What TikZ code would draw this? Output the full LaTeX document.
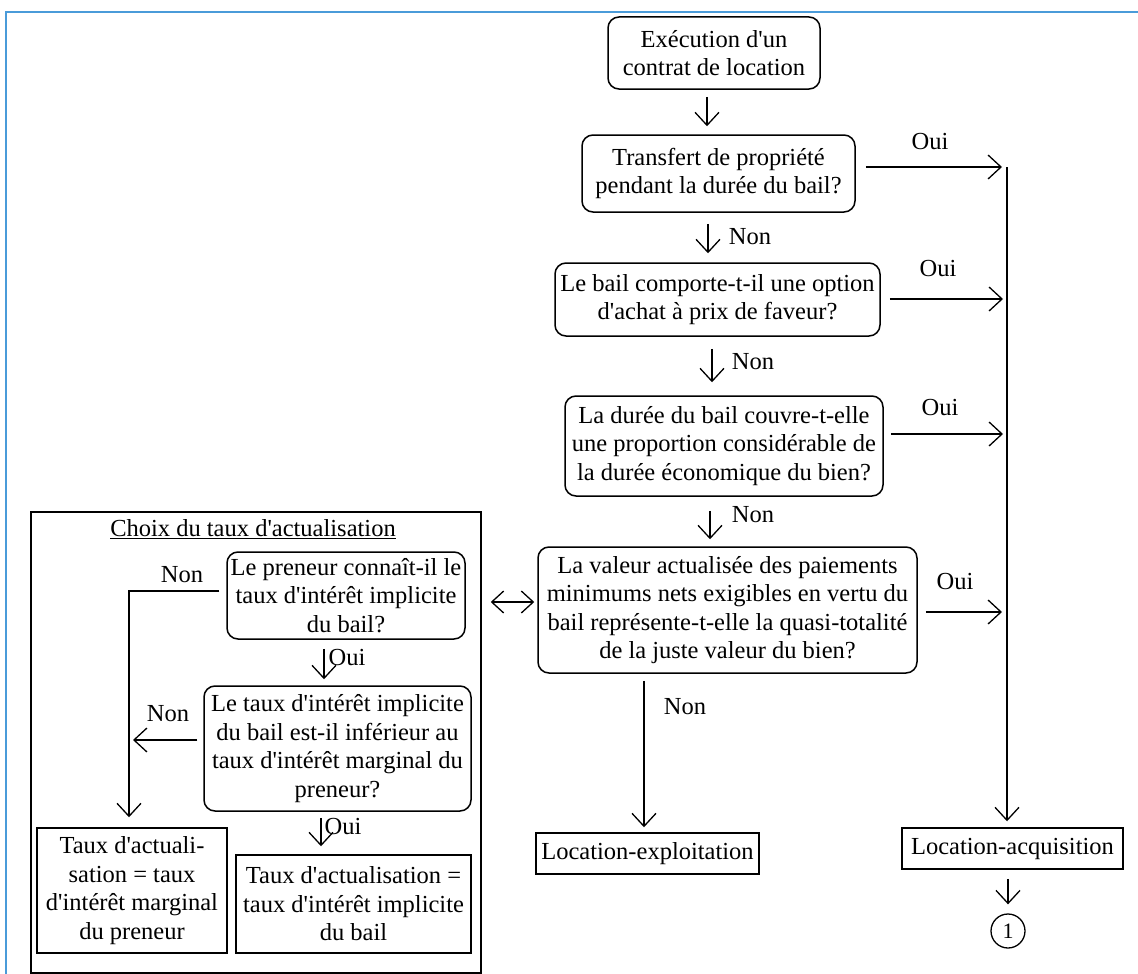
\documentclass[tikz,border=0pt]{standalone}
\usepackage{fontspec}
\setmainfont{Liberation Serif}
\usetikzlibrary{arrows.meta,calc}
\definecolor{frameblue}{RGB}{74,155,217}
\newcommand{\apo}{\textquotesingle}
\begin{document}
\begin{tikzpicture}[x=1pt,y=-1pt,
  every node/.style={font=\fontsize{24.5}{28.5}\selectfont},
  qbox/.style={draw, rounded corners=11pt, line width=1.5pt, align=center, inner sep=2pt},
  rbox/.style={draw, line width=1.5pt, align=center, inner sep=2pt},
  arr/.style={line width=1.3pt, -{Straight Barb[length=13pt,width=24pt]}},
  darr/.style={line width=1.3pt, {Straight Barb[length=12pt,width=22pt]}-{Straight Barb[length=12pt,width=22pt]}},
  lbl/.style={inner sep=0pt}]
\useasboundingbox (0,0) rectangle (1138,974);
\fill[white] (0,0) rectangle (1138,974);
\draw[line width=2.5pt, frameblue] (6,974) -- (6,12) -- (1138,12);

% main column
\node[qbox, minimum width=212pt, minimum height=72pt] (n1) at (714,53) {Exécution d\apo un\\contrat de location};
\node[qbox, minimum width=273pt, minimum height=77pt] (n2) at (718.5,173.5) {Transfert de propriété\\pendant la durée du bail?};
\node[qbox, minimum width=325pt, minimum height=73pt] (n3) at (717.5,299.5) {Le bail comporte-t-il une option\\d\apo achat à prix de faveur?};
\node[qbox, minimum width=318pt, minimum height=100pt] (n4) at (724,446) {La durée du bail couvre-t-elle\\une proportion considérable de\\la durée économique du bien?};
\node[qbox, minimum width=379pt, minimum height=126pt] (n5) at (727.5,610) {La valeur actualisée des paiements\\minimums nets exigibles en vertu du\\bail représente-t-elle la quasi-totalité\\de la juste valeur du bien?};
\node[rbox, minimum width=223pt, minimum height=41pt] (le) at (647.5,853.5) {Location-exploitation};
\node[rbox, minimum width=221pt, minimum height=41pt] (la) at (1012.5,848.5) {Location-acquisition};
\node[draw, circle, line width=1.3pt, minimum size=34pt, inner sep=0pt, font=\fontsize{22}{24}\selectfont] (one) at (1008,931) {1};

% labels
\node[lbl] (oui1) at (930,142) {Oui};
\node[lbl] (non1) at (750,237) {Non};
\node[lbl] (oui2) at (938,269) {Oui};
\node[lbl] (non2) at (753,362) {Non};
\node[lbl] (oui3) at (940,408) {Oui};
\node[lbl] (non3) at (753,515) {Non};
\node[lbl] (oui4) at (955,582) {Oui};
\node[lbl] (non4) at (685,707) {Non};

% helper coordinates
\coordinate (k1) at (707,0);
\coordinate (k2) at (708,0);
\coordinate (k3) at (712,0);
\coordinate (k4) at (710,0);
\coordinate (k5) at (644,0);
\coordinate (bus) at (1007,167);
\coordinate (y3) at (0,299);
\coordinate (y4) at (0,434);
\coordinate (y5) at (0,612);

\draw[arr, shorten <=7pt, shorten >=8pt] (n1.south -| k1) -- (n2.north -| k1);
\draw[arr, shorten <=11pt, shorten >=9pt] (n2.south -| k2) -- (n3.north -| k2);
\draw[arr, shorten <=12pt, shorten >=13pt] (n3.south -| k3) -- (n4.north -| k3);
\draw[arr, shorten <=14pt, shorten >=7pt] (n4.south -| k4) -- (n5.north -| k4);
\draw[arr, shorten <=7pt, shorten >=5pt] (n5.south -| k5) -- (le.north -| k5);

\draw[arr, shorten <=10pt, shorten >=5pt] (n2.east |- bus) -- (bus);
\draw[arr, shorten <=9pt, shorten >=4pt] (n3.east |- y3) -- (bus |- y3);
\draw[arr, shorten <=7pt, shorten >=4pt] (n4.east |- y4) -- (bus |- y4);
\draw[arr, shorten <=8pt, shorten >=5pt] (n5.east |- y5) -- (bus |- y5);
\draw[arr, shorten >=6pt] (bus) -- (bus |- la.north);
\draw[arr, shorten <=9pt, shorten >=9pt] (la.south -| one) -- (one.north);

% left panel
\node[draw, line width=1.5pt, minimum width=450pt, minimum height=461pt, inner sep=0pt] (panel) at (256,742.5) {};
\node[lbl] (title) at (253,529) {\underline{Choix du taux d\apo actualisation}};
\node[qbox, minimum width=238pt, minimum height=87pt, inner sep=1pt] (A) at (346,595.5) {Le preneur connaît-il le\\taux d\apo intérêt implicite\\du bail?};
\node[qbox, minimum width=267pt, minimum height=125pt] (B) at (337.5,748.5) {Le taux d\apo intérêt implicite\\du bail est-il inférieur au\\taux d\apo intérêt marginal du\\preneur?};
\node[rbox, minimum width=190pt, minimum height=125pt] (C) at (132,890.5) {Taux d\apo actuali-\\sation = taux\\d\apo intérêt marginal\\du preneur};
\node[rbox, minimum width=235pt, minimum height=98pt] (D) at (353.5,904) {Taux d\apo actualisation =\\taux d\apo intérêt implicite\\du bail};

\node[lbl] (nonA) at (182,575) {Non};
\node[lbl] (ouiA) at (347,658) {Oui};
\node[lbl] (nonB) at (168,714) {Non};
\node[lbl] (ouiB) at (343,827) {Oui};

\coordinate (na) at (129,591);
\coordinate (nb) at (0,740);
\coordinate (ka) at (324,0);
\coordinate (kb) at (321,0);
\coordinate (dd) at (0,602);

\draw[arr, shorten <=7pt, shorten >=10pt] (A.west |- na) -- (na) -- (na |- C.north);
\draw[arr, shorten <=9pt, shorten >=6pt] (A.south -| ka) -- (B.north -| ka);
\draw[arr, shorten <=6pt, shorten >=4pt] (B.west |- nb) -- (na |- nb);
\draw[arr, shorten <=6pt, shorten >=8pt] (B.south -| kb) -- (D.north -| kb);
\draw[darr, shorten <=25pt, shorten >=3pt] (A.east |- dd) -- (n5.west |- dd);
\end{tikzpicture}
\end{document}
